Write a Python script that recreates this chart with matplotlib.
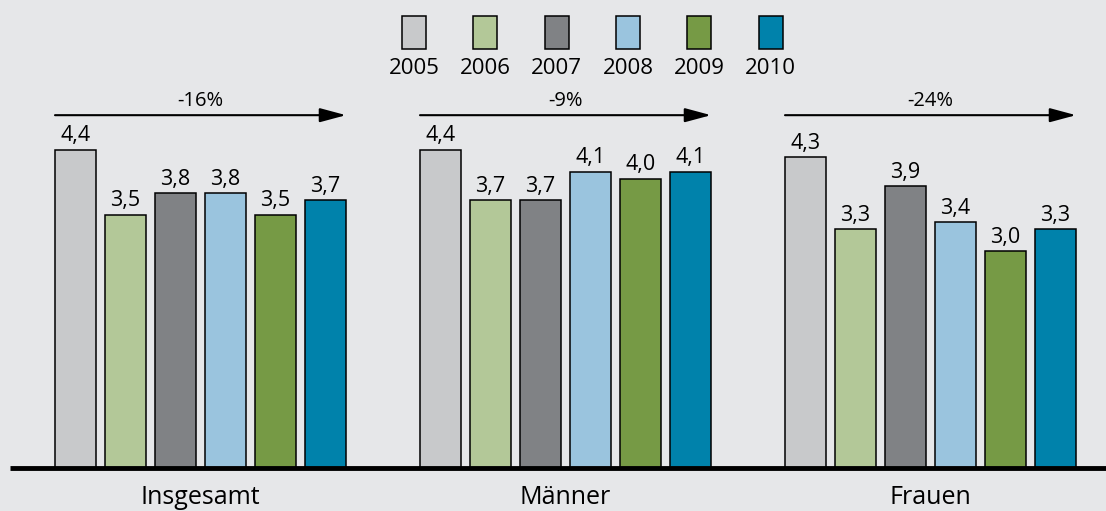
import matplotlib.pyplot as plt
from matplotlib.patches import Rectangle
import matplotlib
import numpy as np

matplotlib.use('Agg')
plt.rcParams['font.family'] = ['Open Sans', 'DejaVu Sans']

# Daten
groups = ['Insgesamt', 'Männer', 'Frauen']
years = ['2005', '2006', '2007', '2008', '2009', '2010']
values = {
    'Insgesamt': [4.4, 3.5, 3.8, 3.8, 3.5, 3.7],
    'Männer':    [4.4, 3.7, 3.7, 4.1, 4.0, 4.1],
    'Frauen':    [4.3, 3.3, 3.9, 3.4, 3.0, 3.3],
}
changes = ['-16%', '-9%', '-24%']
colors = ['#c8c9cb', '#b3c898', '#808285', '#9ac4de', '#769a45', '#0082ab']

bg = '#e6e7e9'
W, H = 1106, 511
fig = plt.figure(figsize=(W / 100, H / 100), dpi=100, facecolor=bg)
ax = fig.add_axes([0, 0, 1, 1])
ax.set_facecolor(bg)

# 1 Einheit x = 50 px, Gruppenabstand 7.3
group_step = 7.3
bar_w = 0.82
x0_px, unit_px = 75.5, 50.0
ax.set_xlim(-x0_px / unit_px, (W - x0_px) / unit_px)
base_px, yunit_px = 43.0, 72.3
ax.set_ylim(-base_px / yunit_px, (H - base_px) / yunit_px)
ax.axis('off')

for g, grp in enumerate(groups):
    xs = g * group_step + np.arange(len(years))
    bars = ax.bar(xs, values[grp], width=bar_w, color=colors,
                  edgecolor='black', linewidth=1.1, zorder=2)
    for b, v in zip(bars, values[grp]):
        ax.annotate(f'{v:.1f}'.replace('.', ','),
                    (b.get_x() + b.get_width() / 2, b.get_height()),
                    xytext=(0, 2.5), textcoords='offset points',
                    ha='center', va='bottom', fontsize=15.5)
    left = xs[0] - bar_w / 2
    right = xs[-1] + bar_w / 2
    ay = 4.88
    ax.annotate('', xy=(right, ay), xytext=(left, ay),
                arrowprops=dict(arrowstyle='-|>,head_length=1.6,head_width=0.43',
                                color='black', lw=1.5, shrinkA=0, shrinkB=0))
    ax.text((left + right) / 2, 5.07, changes[g], ha='center', va='center',
            fontsize=14.5)
    ax.text((left + right) / 2, -0.41, grp, ha='center', va='center',
            fontsize=18)

# Grundlinie
ax.plot([(10 - x0_px) / unit_px, (W - x0_px) / unit_px], [0, 0],
        color='black', lw=3.5, solid_capstyle='butt', zorder=3)

# Legende
for i, (yr, c) in enumerate(zip(years, colors)):
    cx = 414 + i * 71.3
    fig.add_artist(Rectangle(((cx - 12) / W, 1 - 49 / H), 24 / W, 33 / H,
                             transform=fig.transFigure, facecolor=c,
                             edgecolor='black', linewidth=1.1))
    fig.text(cx / W, 1 - 69 / H, yr, ha='center', va='center', fontsize=16)

fig.savefig('out.png', dpi=100, facecolor=bg)
